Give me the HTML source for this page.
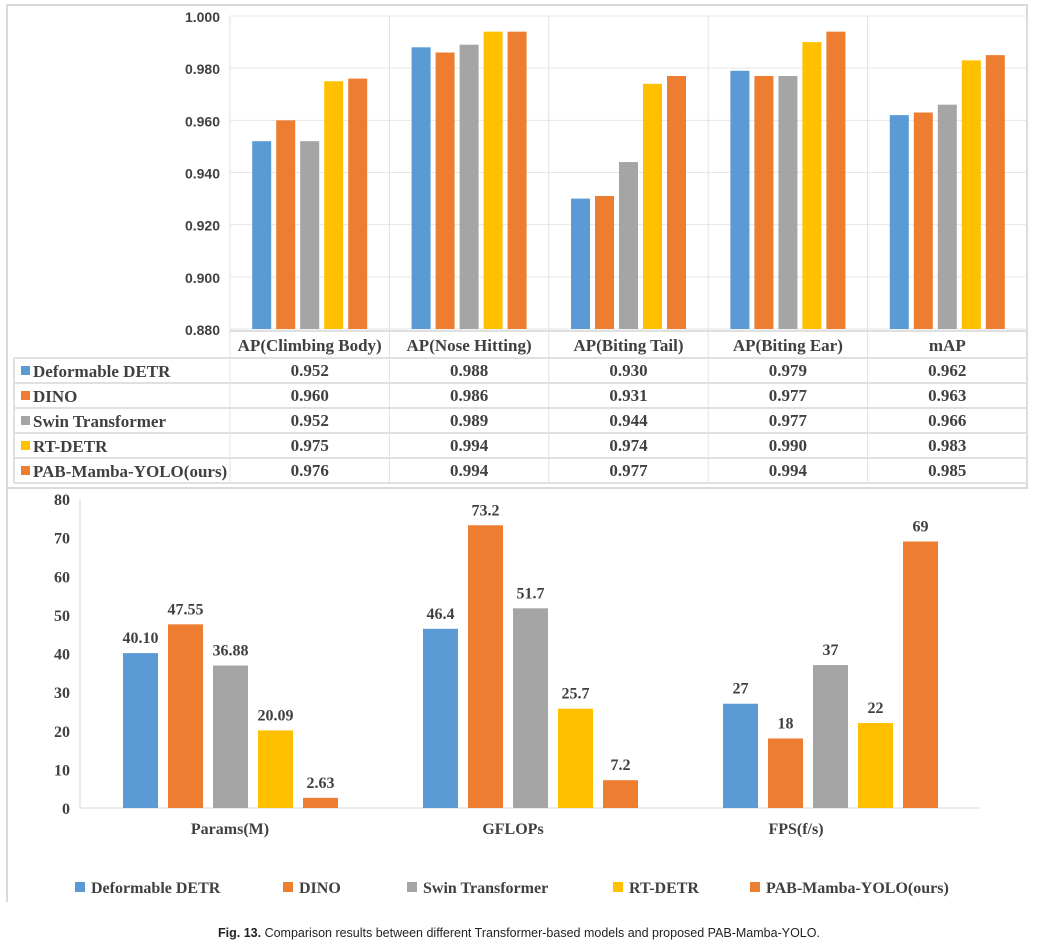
<!DOCTYPE html>
<html><head><meta charset="utf-8"><style>
body{margin:0;background:#fff;width:1037px;height:948px;overflow:hidden}
svg{display:block}
.sf{font-family:"Liberation Serif",serif;font-weight:bold;fill:#404040}
.ss{font-family:"Liberation Sans",sans-serif;font-weight:bold;fill:#404040}
</style></head><body>
<svg id="c" width="1037" height="948">
<rect x="7" y="5" width="1020" height="483" fill="none" stroke="#d9d9d9" stroke-width="2"/>
<line x1="7" y1="489" x2="7" y2="902" stroke="#d9d9d9" stroke-width="2"/>
<text x="519" y="937" text-anchor="middle" font-family="Liberation Sans,sans-serif" font-size="12.5" fill="#222"><tspan font-weight="bold">Fig. 13.</tspan> Comparison results between different Transformer-based models and proposed PAB-Mamba-YOLO.</text>
</svg>
<script>
const models=["Deformable DETR","DINO","Swin Transformer","RT-DETR","PAB-Mamba-YOLO(ours)"];
const colors=["#5b9bd5","#ed7d31","#a5a5a5","#ffc000","#ed7d31"];
const apCats=["AP(Climbing Body)","AP(Nose Hitting)","AP(Biting Tail)","AP(Biting Ear)","mAP"];
const apDeformable=[0.952,0.988,0.930,0.979,0.962];
const apDino=[0.960,0.986,0.931,0.977,0.963];
const apSwin=[0.952,0.989,0.944,0.977,0.966];
const apRtdetr=[0.975,0.994,0.974,0.990,0.983];
const apOurs=[0.976,0.994,0.977,0.994,0.985];
const apTicks=[0.880,0.900,0.920,0.940,0.960,0.980,1.000];
const effCats=["Params(M)","GFLOPs","FPS(f/s)"];
const effDeformable=[40.10,46.4,27];
const effDino=[47.55,73.2,18];
const effSwin=[36.88,51.7,37];
const effRtdetr=[20.09,25.7,22];
const effOurs=[2.63,7.2,69];
const effLabels=[["40.10","47.55","36.88","20.09","2.63"],["46.4","73.2","51.7","25.7","7.2"],["27","18","37","22","69"]];
const effTicks=[0,10,20,30,40,50,60,70,80];

const svg=document.getElementById('c');const NS="http://www.w3.org/2000/svg";
function mk(t,a,txt){const e=document.createElementNS(NS,t);for(const k in a)e.setAttribute(k,a[k]);if(txt!==undefined)e.textContent=txt;svg.appendChild(e);return e;}

// Top chart
const apSeries=[apDeformable,apDino,apSwin,apRtdetr,apOurs];
const tx0=230,tx1=1027,ty0=329,ty1=16,colW=(tx1-tx0)/apCats.length;
const ya=v=>ty0-(v-0.88)/(1.0-0.88)*(ty0-ty1);
apTicks.forEach(t=>{
 let l=mk('line',{x1:tx0,x2:tx1,y1:ya(t),y2:ya(t),stroke:'#e6e6e6'});
 
 
 let tt=mk('text',{x:220,y:ya(t)+6,'text-anchor':'end','font-size':'14',class:'ss'},t.toFixed(3));
 
 
});
for(let i=0;i<=apCats.length;i++){
 let l=mk('line',{x1:tx0+i*colW,x2:tx0+i*colW,y1:ty1,y2:483,stroke:'#e0e0e0'});
 
 
}
apCats.forEach((c,i)=>{
 const cx=tx0+colW*(i+0.5);
 apSeries.forEach((s,j)=>{
  const x=cx-57.5+j*24;
  let r=mk('rect',{x:x,y:ya(s[i]),width:19,height:ty0-ya(s[i]),fill:colors[j]});
  
  
  let v=mk('text',{x:cx,y:376+j*25,'text-anchor':'middle','font-size':'17',class:'sf'},s[i].toFixed(3));
  
  
 });
 let h=mk('text',{x:cx,y:351,'text-anchor':'middle','font-size':'17',class:'sf'},c);
 
 
});
let tl=mk('line',{x1:tx0,x2:tx1,y1:331,y2:331,stroke:'#e0e0e0',"stroke-width":2});


for(let j=0;j<=5;j++){
 let l=mk('line',{x1:14,x2:tx1,y1:358+j*25,y2:358+j*25,stroke:'#e0e0e0',"stroke-width":2});
 
 
}
let lb=mk('line',{x1:14,x2:14,y1:358,y2:483,stroke:'#e0e0e0',"stroke-width":2});


models.forEach((m,j)=>{
 let s=mk('rect',{x:21,y:366+j*25,width:9,height:9,fill:colors[j]});
 
 
 let t=mk('text',{x:33,y:377+j*25,'font-size':'17',class:'sf'},m);
 
 
});

// Bottom chart
const effSeries=[effDeformable,effDino,effSwin,effRtdetr,effOurs];
const bx0=80,by0=808,by1=499,gW=300,g0=230;
const yb=v=>by0-v/80*(by0-by1);
effTicks.forEach(t=>{
 let tt=mk('text',{x:70,y:yb(t)+6,'text-anchor':'end','font-size':'16',class:'sf'},String(t));
 
 
});
let ax=mk('line',{x1:bx0,x2:bx0,y1:by1,y2:by0,stroke:'#d9d9d9'});


let xa=mk('line',{x1:bx0,x2:980,y1:by0,y2:by0,stroke:'#d9d9d9'});


effCats.forEach((c,i)=>{
 const cx=g0+i*gW;
 effSeries.forEach((s,j)=>{
  const x=cx-107+j*45;
  let r=mk('rect',{x:x,y:yb(s[i]),width:35,height:by0-yb(s[i]),fill:colors[j]});
  
  
  let v=mk('text',{x:x+17.5,y:yb(s[i])-10,'text-anchor':'middle','font-size':'16',class:'sf'},effLabels[i][j]);
  
  
 });
 let l=mk('text',{x:cx-i*17,y:834,'text-anchor':'middle','font-size':'16',class:'sf'},c);
 
 
});
const legX=[75,283,407,613,750];
models.forEach((m,j)=>{
 let s=mk('rect',{x:legX[j],y:882,width:10,height:10,fill:colors[j]});
 
 
 let t=mk('text',{x:legX[j]+16,y:893,'font-size':'16',class:'sf'},m);
 
 
});
</script>
</body></html>
